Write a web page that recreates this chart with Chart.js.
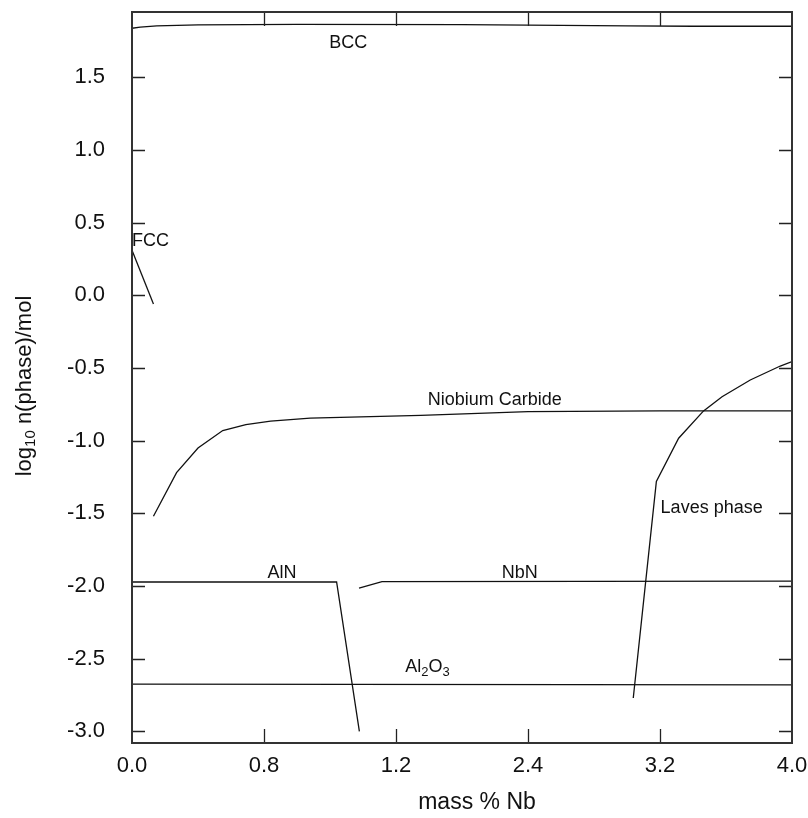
<!DOCTYPE html>
<html>
<head>
<meta charset="utf-8">
<script src="https://cdn.jsdelivr.net/npm/chart.js@4.4.1/dist/chart.umd.min.js"></script>
<style>
  body { margin: 0; background: #fff; }
  canvas { display: block; }
</style>
</head>
<body>
<canvas id="phaseChart" width="808" height="818"></canvas>
<script>
// --- DATA (mass % Nb, log10 n(phase)/mol) ---
const xTicks = [0, 0.8, 1.6, 2.4, 3.2, 4.0];
const xTickLabels = ['0.0', '0.8', '1.2', '2.4', '3.2', '4.0'];
const yTicks = [-3.0, -2.5, -2.0, -1.5, -1.0, -0.5, 0.0, 0.5, 1.0, 1.5];

const bcc = [[0, 1.838], [0.05, 1.846], [0.15, 1.855], [0.4, 1.862], [1.0, 1.865], [2.0, 1.863], [2.4, 1.86], [3.0, 1.855], [3.4, 1.852], [4.0, 1.852]];
const fcc = [[0, 0.31], [0.13, -0.06]];
const carbide = [[0.13, -1.52], [0.27, -1.22], [0.40, -1.05], [0.55, -0.93], [0.69, -0.89], [0.84, -0.865], [1.08, -0.845], [1.75, -0.825], [2.4, -0.80], [3.2, -0.795], [4.0, -0.795]];
const laves = [[3.038, -2.77], [3.178, -1.28], [3.313, -0.983], [3.464, -0.795], [3.576, -0.697], [3.747, -0.582], [3.929, -0.486], [4.0, -0.456]];
const aln = [[0, -1.972], [1.24, -1.972], [1.378, -3.0]];
const nbn = [[1.376, -2.014], [1.515, -1.969], [4.0, -1.966]];
const al2o3 = [[0, -2.675], [4.0, -2.68]];

// phase labels, placed in data units
const phaseLabels = [
    { text: 'BCC', x: 1.311, y: 1.736, align: 'center' },
    { text: 'FCC', x: 0.0, y: 0.374, align: 'left' },
    { text: 'Niobium Carbide', x: 2.199, y: -0.719, align: 'center' },
    { text: 'Laves phase', x: 3.513, y: -1.464, align: 'center' },
    { text: 'AlN', x: 0.909, y: -1.911, align: 'center' },
    { text: 'NbN', x: 2.35, y: -1.911, align: 'center' }
];
const al2o3Label = { x: 1.656, y: -2.554 };

const FONT = '"Liberation Sans", Arial, Helvetica, sans-serif';
const INK = '#111';

function toPoints(arr) {
    return arr.map(p => ({ x: p[0], y: p[1] }));
}

function lineSet(arr) {
    return {
        data: toPoints(arr),
        showLine: true,
        borderColor: INK,
        borderWidth: 1.3,
        pointRadius: 0,
        fill: false,
        tension: 0
    };
}

// fixed box sizes, no extra label padding
function fixBox(w, h) {
    return s => {
        if (w) s.width = w;
        if (h) s.height = h;
        s.paddingTop = 0; s.paddingBottom = 0;
        s.paddingLeft = 0; s.paddingRight = 0;
    };
}

// draws inward ticks, frame, phase labels and axis titles
const framePlugin = {
    id: 'frame',
    afterDraw(chart) {
        const { ctx, chartArea: a, scales: { x, y } } = chart;
        ctx.save();

        // inward ticks on all four sides
        ctx.strokeStyle = '#222';
        ctx.lineWidth = 1.3;
        ctx.beginPath();
        x.ticks.forEach(t => {
            const px = Math.round(x.getPixelForValue(t.value)) + 0.5;
            if (px - a.left < 2 || a.right - px < 2) return;
            ctx.moveTo(px, a.bottom); ctx.lineTo(px, a.bottom - 14);
            ctx.moveTo(px, a.top); ctx.lineTo(px, a.top + 14);
        });
        y.ticks.forEach(t => {
            const py = Math.round(y.getPixelForValue(t.value)) + 0.5;
            ctx.moveTo(a.left, py); ctx.lineTo(a.left + 13, py);
            ctx.moveTo(a.right, py); ctx.lineTo(a.right - 13, py);
        });
        ctx.stroke();

        // frame
        ctx.strokeStyle = '#333';
        ctx.lineWidth = 2;
        ctx.strokeRect(a.left, a.top, a.right - a.left, a.bottom - a.top);

        // phase labels
        ctx.fillStyle = INK;
        ctx.font = '18px ' + FONT;
        ctx.textBaseline = 'middle';
        phaseLabels.forEach(l => {
            ctx.textAlign = l.align;
            ctx.fillText(l.text, x.getPixelForValue(l.x), y.getPixelForValue(l.y));
        });

        // Al2O3 with subscripts
        let cx = x.getPixelForValue(al2o3Label.x);
        const cy = y.getPixelForValue(al2o3Label.y);
        ctx.textAlign = 'left';
        [['Al', false], ['2', true], ['O', false], ['3', true]].forEach(([s, sub]) => {
            ctx.font = (sub ? '13px ' : '18px ') + FONT;
            ctx.fillText(s, cx, sub ? cy + 6 : cy);
            cx += ctx.measureText(s).width;
        });

        // x axis title
        ctx.font = '23px ' + FONT;
        ctx.textAlign = 'center';
        ctx.fillText('mass % Nb', 477, 803);

        // y axis title, rotated, with subscript 10
        ctx.translate(25, 386);
        ctx.rotate(-Math.PI / 2);
        const parts = [['log', false], ['10', true], [' n(phase)/mol', false]];
        let total = 0;
        parts.forEach(([s, sub]) => {
            ctx.font = (sub ? '15px ' : '22px ') + FONT;
            total += ctx.measureText(s).width;
        });
        let tx = -total / 2;
        ctx.textAlign = 'left';
        parts.forEach(([s, sub]) => {
            ctx.font = (sub ? '15px ' : '22px ') + FONT;
            ctx.fillText(s, tx, sub ? 6 : 0);
            tx += ctx.measureText(s).width;
        });

        ctx.restore();
    }
};

const ctx = document.getElementById('phaseChart').getContext('2d');
const phaseChart = new Chart(ctx, {
    type: 'scatter',
    data: {
        datasets: [bcc, fcc, carbide, laves, aln, nbn, al2o3].map(lineSet)
    },
    options: {
        responsive: false,
        animation: false,
        devicePixelRatio: 1,
        layout: { padding: { top: 12, right: 16, left: 0, bottom: 0 } },
        plugins: { legend: { display: false }, tooltip: { enabled: false } },
        scales: {
            x: {
                type: 'linear',
                min: 0,
                max: 4.0,
                afterFit: fixBox(0, 75),
                afterBuildTicks: s => { s.ticks = xTicks.map(v => ({ value: v })); },
                grid: { display: false, drawTicks: false },
                border: { display: false },
                ticks: {
                    padding: 10,
                    color: INK,
                    font: { family: FONT, size: 22 },
                    maxRotation: 0,
                    callback: (v, i) => xTickLabels[i]
                }
            },
            y: {
                type: 'linear',
                min: -3.08,
                max: 1.95,
                afterFit: fixBox(132, 0),
                afterBuildTicks: s => { s.ticks = yTicks.map(v => ({ value: v })); },
                grid: { display: false, drawTicks: false },
                border: { display: false },
                ticks: {
                    padding: 27,
                    color: INK,
                    font: { family: FONT, size: 22 },
                    callback: v => v.toFixed(1)
                }
            }
        }
    },
    plugins: [framePlugin]
});
</script>
</body>
</html>
